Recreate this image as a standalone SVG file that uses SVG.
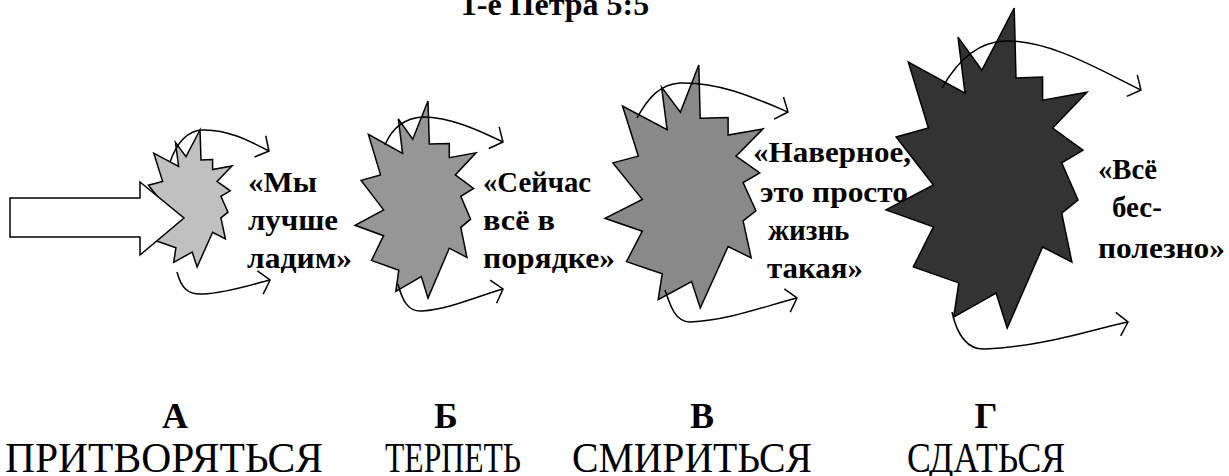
<svg xmlns="http://www.w3.org/2000/svg" width="1229" height="476" viewBox="0 0 1229 476">
  <style>
    .burst { stroke: #000; stroke-width: 1.5; stroke-linejoin: miter; }
    .curve { fill: none; stroke: #000; stroke-width: 1.5; marker-end: url(#chev); }
    .quote { font-family: "Liberation Serif", "Times New Roman", serif; font-weight: bold; font-size: 29px; fill: #000; }
    .letter { font-family: "Liberation Serif", "Times New Roman", serif; font-weight: bold; font-size: 36px; fill: #000; text-anchor: middle; }
    .word { font-family: "Liberation Serif", "Times New Roman", serif; font-size: 42px; fill: #000; }
    .title { font-family: "Liberation Serif", "Times New Roman", serif; font-weight: bold; font-size: 32px; fill: #000; text-anchor: middle; }
  </style>
  <defs>
    <!-- open chevron head used at the end of every curved arrow -->
    <marker id="chev" markerUnits="userSpaceOnUse" viewBox="-15 -15 30 30" markerWidth="30" markerHeight="30" refX="0" refY="0" orient="auto" overflow="visible">
      <path d="M-10,-12 L0,0 L-10,12" fill="none" stroke="#000" stroke-width="1.5"/>
    </marker>
  </defs>

  <text class="title" x="555" y="15">1-е Петра 5:5</text>

  <g id="stage-a">
    <polygon class="burst" fill="#c0c0c0" points="200,130 201,160 212.6,159.6 212.6,169.5 232,166 217,181.4 230.2,190.8 220.9,196.3 228,212.2 220.9,217.8 225.4,238.8 212.6,232.3 197.1,267 192.2,252.1 173.7,262.3 175.9,247.7 156,240.8 164.8,223.7 144,216.4 164.8,205.8 148.4,185.2 162.6,181.4 153.8,153.2 178.6,166.4 175.5,142.5 186,156.6"/>
  </g>
  <g id="stage-b">
    <polygon class="burst" fill="#969696" points="428,101 429.3,144.1 449.3,143.6 449.3,157.7 476,152.8 455.3,174.9 473.6,188.5 460.8,196.3 470.6,219.2 460.8,227.3 466.9,257.4 449.3,248.2 428,298 421.3,276.5 395.8,291.3 398.8,270.2 371.5,260.4 383.6,235.7 355,225.3 383.6,209.9 361.1,180.4 380.5,174.9 368.4,134.3 402.6,153.4 398.3,118.9 412.7,139.2"/>
  </g>
  <g id="stage-c">
    <polygon class="burst" fill="#898989" points="698.8,65 700.2,118.2 728.1,117.5 728.1,135 763,128.9 736,156.1 759.8,172.9 743.1,182.6 755.9,210.8 743.1,220.8 751.2,257.9 728.1,246.5 700.3,308 691.6,281.5 658.2,299.7 662.2,273.7 626.5,261.6 642.3,231.2 605,218.3 642.3,199.4 612.9,162.9 638.3,156.1 622.5,106.1 667.1,129.6 661.6,87.1 680.4,112.1"/>
  </g>
  <g id="stage-d">
    <polygon class="burst" fill="#333333" points="1014.2,8 1016,78.1 1042.6,77.1 1042.6,100.2 1087,92.2 1052.6,128 1083,150.1 1061.7,162.9 1078,200 1061.7,213.1 1071.9,262.1 1042.6,247 1007.2,328 996.1,293.1 953.7,317.1 958.8,282.9 913.3,266.9 933.4,226.9 886,209.9 933.4,185 896.1,137 928.4,128 908.3,62.1 965,93.1 958,37.1 981.9,70.1"/>
  </g>

  <g id="connectors">
    <path class="curve" d="M170,162 C176,145 186,131 202,130 C226,129 248,140 269,151"/>
    <path class="curve" d="M177,272 C181,287 187,295 203,294 C225,293 250,285 270,280"/>
    <path class="curve" d="M385,145 C392,128 405,118 423,117 C450,117 478,130 503,142"/>
    <path class="curve" d="M398,284 C402,300 408,312 422,311 C450,309 478,296 503,289"/>
    <path class="curve" d="M637,118 C648,98 660,84 680,83 C720,82 755,98 788,112"/>
    <path class="curve" d="M665,290 C670,305 675,322 690,322 C730,320 765,306 797,298"/>
    <path class="curve" d="M942,88 C955,65 975,42 1005,41 C1050,40 1100,70 1141,90"/>
    <path class="curve" d="M952,312 C956,330 965,350 985,349 C1040,347 1090,330 1128,322"/>
  </g>

  <g id="pressure-arrow">
    <path d="M10,198 H140 V182 L184,218 L140,255 V237 H10 Z" fill="#fff" stroke="#000" stroke-width="1.5"/>
  </g>

  <g id="quotes">
    <text class="quote" x="248" y="192" textLength="69" lengthAdjust="spacingAndGlyphs">«Мы</text>
    <text class="quote" x="248" y="230" textLength="90" lengthAdjust="spacingAndGlyphs">лучше</text>
    <text class="quote" x="247" y="268" textLength="105" lengthAdjust="spacingAndGlyphs">ладим»</text>

    <text class="quote" x="483" y="192" textLength="108" lengthAdjust="spacingAndGlyphs">«Сейчас</text>
    <text class="quote" x="483" y="230" textLength="72" lengthAdjust="spacingAndGlyphs">всё в</text>
    <text class="quote" x="483" y="268" textLength="132" lengthAdjust="spacingAndGlyphs">порядке»</text>

    <text class="quote" x="753" y="162" textLength="158" lengthAdjust="spacingAndGlyphs">«Наверное,</text>
    <text class="quote" x="760" y="202" textLength="148" lengthAdjust="spacingAndGlyphs">это просто</text>
    <text class="quote" x="768" y="240">жизнь</text>
    <text class="quote" x="767" y="278" textLength="96" lengthAdjust="spacingAndGlyphs">такая»</text>

    <text class="quote" x="1098" y="179" textLength="59" lengthAdjust="spacingAndGlyphs">«Всё</text>
    <text class="quote" x="1112" y="217">бес-</text>
    <text class="quote" x="1098" y="258" textLength="127" lengthAdjust="spacingAndGlyphs">полезно»</text>
  </g>

  <g id="stage-labels">
    <text class="letter" x="175" y="428">А</text>
    <text class="word" x="5" y="472" textLength="318" lengthAdjust="spacingAndGlyphs">ПРИТВОРЯТЬСЯ</text>
    <text class="letter" x="446" y="428">Б</text>
    <text class="word" x="385" y="472" textLength="136" lengthAdjust="spacingAndGlyphs">ТЕРПЕТЬ</text>
    <text class="letter" x="702" y="428">В</text>
    <text class="word" x="572" y="472" textLength="240" lengthAdjust="spacingAndGlyphs">СМИРИТЬСЯ</text>
    <text class="letter" x="986" y="428">Г</text>
    <text class="word" x="907" y="472" textLength="158" lengthAdjust="spacingAndGlyphs">СДАТЬСЯ</text>
  </g>
</svg>
